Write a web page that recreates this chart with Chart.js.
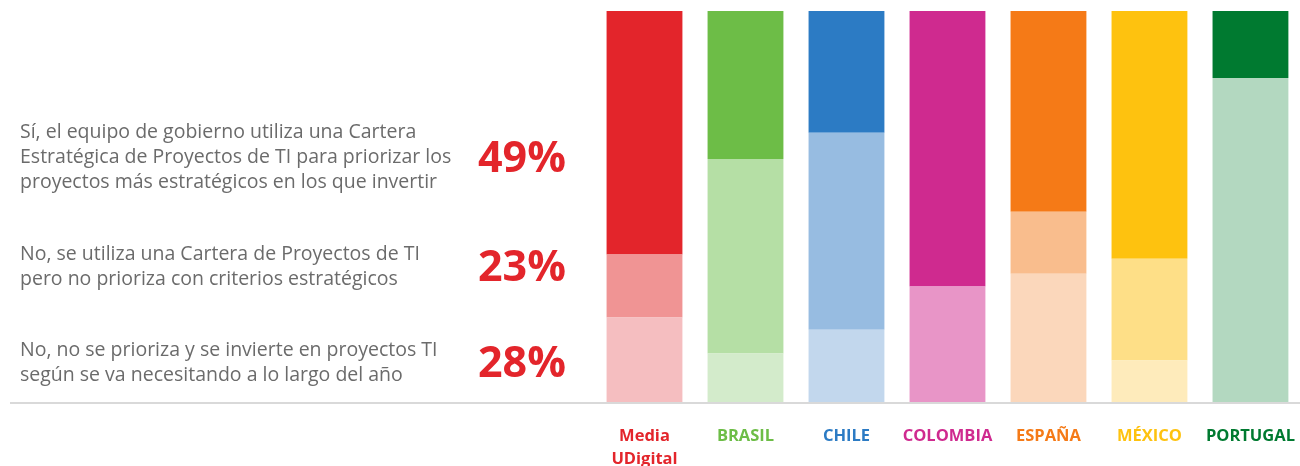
<!DOCTYPE html>
<html>
<head>
<meta charset="utf-8">
<script src="https://cdn.jsdelivr.net/npm/chart.js@4/dist/chart.umd.min.js"></script>
<style>
  html, body { margin: 0; padding: 0; background: #fff; width: 1300px; height: 466px; overflow: hidden; }
  #wrap { position: relative; width: 1300px; height: 466px; overflow: hidden; }
  canvas { position: absolute; left: 0; top: 0; }
  .txt { position: absolute; left: 20px; font-family: "Open Sans", sans-serif; font-size: 19.5px; line-height: 25px; color: #6b6b6b; white-space: nowrap; }
  .pct { position: absolute; left: 478px; width: 100px; height: 50px; line-height: 50px; font-family: "Open Sans", sans-serif; font-weight: 700; font-size: 43px; color: #e3252b; white-space: nowrap; }
</style>
</head>
<body>
<div id="wrap">
  <canvas id="c" width="1310" height="485"></canvas>
  <div class="txt" style="top:118px">Sí, el equipo de gobierno utiliza una Cartera<br>Estratégica de Proyectos de TI para priorizar los<br>proyectos más estratégicos en los que invertir</div>
  <div class="txt" style="top:240px">No, se utiliza una Cartera de Proyectos de TI<br>pero no prioriza con criterios estratégicos</div>
  <div class="txt" style="top:336px">No, no se prioriza y se invierte en proyectos TI<br>según se va necesitando a lo largo del año</div>
  <div class="pct" style="top:131px">49%</div>
  <div class="pct" style="top:240px">23%</div>
  <div class="pct" style="top:336px">28%</div>
</div>
<script>
const categories = [['Media', 'UDigital'], 'BRASIL', 'CHILE', 'COLOMBIA', 'ESPAÑA', 'MÉXICO', 'PORTUGAL'];
const siCartera = [62.2, 37.8, 31.1, 70.4, 51.3, 63.3, 17.1];
const noPriorizaCartera = [16.1, 49.7, 50.3, 29.6, 15.8, 26.0, 0];
const noSeInvierte = [21.7, 12.5, 18.6, 0, 32.9, 10.7, 82.9];

const darkColors = ['#e3252b', '#6dbd47', '#2c7bc4', '#cf2a8f', '#f57a17', '#fec20f', '#007a30'];
const midColors = ['#f09494', '#b5dfa5', '#97bce1', '#e895c7', '#f9bd8d', '#fedf87', '#80bd98'];
const lightColors = ['#f5bec0', '#d3ebcb', '#c2d7ed', '#f0bfdd', '#fbd7bb', '#feebbb', '#b3d8c0'];

const axisLine = {
  id: 'axisLine',
  afterDatasetsDraw(chart) {
    const ctx = chart.ctx;
    const y = chart.chartArea.bottom + 0.5;
    ctx.save();
    ctx.strokeStyle = '#d9d9d9';
    ctx.lineWidth = 2;
    ctx.beginPath();
    ctx.moveTo(10, y);
    ctx.lineTo(chart.width, y);
    ctx.stroke();
    ctx.restore();
  }
};

new Chart(document.getElementById('c'), {
  type: 'bar',
  data: {
    labels: categories,
    datasets: [
      { label: 'No, no se prioriza y se invierte en proyectos TI según se va necesitando a lo largo del año', data: noSeInvierte, backgroundColor: lightColors },
      { label: 'No, se utiliza una Cartera de Proyectos de TI pero no prioriza con criterios estratégicos', data: noPriorizaCartera, backgroundColor: midColors },
      { label: 'Sí, el equipo de gobierno utiliza una Cartera Estratégica de Proyectos de TI', data: siCartera, backgroundColor: darkColors }
    ]
  },
  options: {
    responsive: false,
    maintainAspectRatio: false,
    animation: false,
    layout: { padding: { left: 594, right: 0, top: 11, bottom: 0 } },
    datasets: { bar: { barPercentage: 0.751, categoryPercentage: 1, borderWidth: 0 } },
    plugins: { legend: { display: false }, tooltip: { enabled: false } },
    scales: {
      x: {
        stacked: true,
        grid: { display: false },
        border: { display: false },
        ticks: {
          padding: 15,
          maxRotation: 0,
          autoSkip: false,
          color: darkColors,
          font: { family: '"Open Sans", sans-serif', size: 16.5, weight: 'bold', lineHeight: 1.35 }
        }
      },
      y: {
        stacked: true,
        display: false,
        min: 0,
        max: 100
      }
    }
  },
  plugins: [axisLine]
});
</script>
</body>
</html>
